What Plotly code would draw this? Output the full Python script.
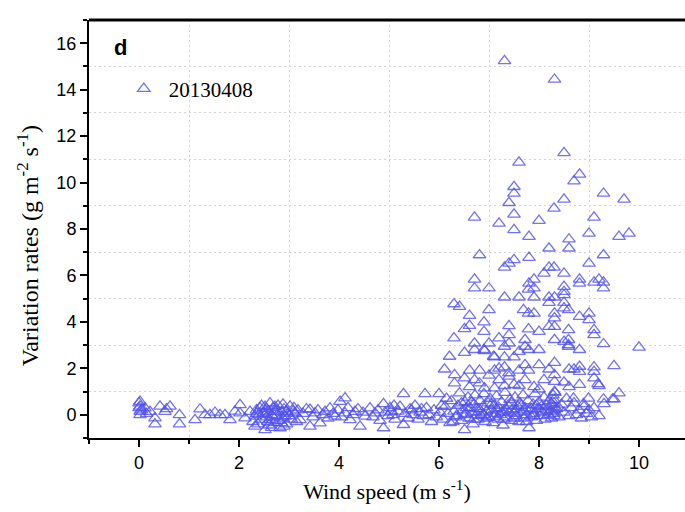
import plotly.graph_objects as go

# Low wind speeds (0-4.6 m/s)
wind_a = [0.00,0.00,0.02,0.02,0.02,0.02,0.05,0.12,0.15,0.22,
          0.32,0.32,0.42,0.52,0.62,0.55,0.81,0.81,1.12,1.22,
          1.32,1.42,1.52,1.62,1.72,1.82,1.92,2.02,2.02,2.12,
          2.22,2.28,2.32,2.32,2.35,2.38,2.42,2.45,2.48,2.52,
          2.52,2.55,2.58,2.60,2.62,2.62,2.65,2.68,2.70,2.72,
          2.75,2.78,2.80,2.82,2.85,2.88,2.90,2.92,2.95,2.98,
          3.02,3.05,3.08,3.12,3.15,3.18,3.22,3.28,3.35,3.42,
          3.42,3.48,3.52,3.58,3.62,3.68,3.72,3.78,3.82,3.88,
          3.92,3.98,4.02,4.05,4.12,4.12,4.18,4.22,4.28,4.32,
          4.38,4.42,4.48,4.52,2.40,2.50,2.58,2.68,2.72,2.85,
          2.95,3.00,2.45,2.55,2.75,2.88,3.10,2.65,2.35,2.90]
rate_a = [0.50,0.30,0.57,0.36,0.14,0.00,0.20,0.29,0.05,0.14,
          -0.14,-0.40,0.36,0.14,0.36,0.25,0.00,-0.40,-0.22,0.24,
          0.00,0.00,0.10,0.00,0.00,-0.22,0.15,0.43,0.07,-0.14,
          0.14,-0.30,-0.50,-0.07,0.20,-0.40,0.29,-0.20,0.05,-0.65,
          0.35,-0.10,0.15,-0.45,0.50,-0.22,0.00,0.30,-0.35,0.14,
          -0.05,0.40,-0.25,-0.57,0.10,-0.15,0.25,-0.07,-0.40,0.05,
          0.36,-0.20,0.15,0.07,-0.30,0.20,-0.22,0.05,0.25,-0.50,
          0.22,-0.10,0.07,0.20,-0.36,0.00,0.14,-0.15,0.29,0.05,
          -0.07,0.20,0.57,-0.10,0.72,0.07,0.30,-0.22,0.00,0.14,
          0.25,-0.50,0.10,-0.07,0.00,0.10,-0.30,-0.10,0.35,-0.35,
          0.15,-0.05,0.40,0.25,0.20,0.45,0.30,-0.55,0.05,-0.50]

# Moderate wind speeds (4.6-6 m/s)
wind_b = [4.62,4.68,4.72,4.78,4.82,4.89,4.89,4.92,4.98,5.02,
          5.08,5.12,5.18,5.22,5.29,5.29,5.32,5.38,5.42,5.48,
          5.52,5.58,5.62,5.68,5.72,5.75,5.80,5.85,5.90,5.95,
          6.00,5.05,5.45,5.65,5.10]
rate_b = [0.29,-0.10,0.07,0.20,-0.25,0.47,-0.57,0.10,-0.05,0.30,
          0.00,-0.20,0.15,0.35,0.90,-0.43,0.05,-0.15,0.25,0.00,
          0.40,-0.20,0.10,-0.05,0.90,0.30,0.00,-0.30,0.20,-0.10,
          0.90,0.15,0.20,0.25,0.40]

# High wind speeds, near-zero band
wind_c = [6.02,6.08,6.12,6.18,6.22,6.25,6.30,6.33,6.38,6.41,
          6.45,6.48,6.51,6.52,6.55,6.58,6.60,6.62,6.65,6.68,
          6.70,6.72,6.75,6.78,6.80,6.82,6.85,6.88,6.90,6.92,
          6.95,6.98,7.00,7.02,7.05,7.08,7.10,7.12,7.15,7.18,
          7.20,7.22,7.25,7.28,7.30,7.32,7.35,7.38,7.40,7.42,
          7.45,7.48,7.50,7.52,7.55,7.58,7.60,7.62,7.65,7.68,
          7.70,7.72,7.75,7.78,7.80,7.82,7.85,7.88,7.90,7.92,
          7.95,7.98,8.00,8.02,8.05,8.08,8.10,8.12,8.15,8.18,
          8.20,8.22,8.25,8.28,8.30,8.30,8.30,8.30,8.30,8.30,
          8.32,8.35,8.40,8.45,8.50,8.55,8.60,8.65,8.70,8.75,
          8.80,8.85,8.90,8.95,9.00,9.05,9.10,9.20,6.15,6.35,
          6.45,6.55,6.65,6.75,6.85,6.95,7.05,7.15,7.25,7.35,
          7.45,7.55,7.65,7.75,7.85,7.95,8.05,8.15,8.25,8.40,
          6.05,6.28,6.50,6.70,6.90,7.10,7.30,7.50,7.70,7.90]
rate_c = [0.10,-0.20,0.35,0.05,-0.35,0.60,0.15,-0.10,0.40,0.93,
          -0.25,0.20,-0.65,0.55,0.05,0.75,-0.15,0.30,0.10,-0.40,
          0.45,0.85,0.00,-0.20,0.25,0.60,-0.05,0.35,0.90,-0.30,
          0.15,0.50,-0.10,0.70,0.20,-0.35,0.40,0.05,0.80,-0.20,
          0.30,0.00,0.55,-0.45,0.15,0.95,-0.10,0.40,0.10,0.65,
          -0.25,0.25,0.05,0.75,-0.05,0.35,-0.30,0.50,0.10,0.85,
          -0.15,0.30,0.00,0.60,-0.57,0.20,-0.10,0.45,0.05,0.90,
          -0.25,0.25,0.55,-0.05,0.35,0.10,0.75,-0.20,0.40,0.00,
          0.60,0.15,-0.15,0.85,0.05,0.20,0.35,0.50,0.65,-0.05,
          0.95,0.25,-0.10,0.45,0.10,0.70,-0.05,0.30,0.50,0.00,
          0.20,-0.15,0.35,0.05,0.20,-0.10,0.30,-0.05,0.70,-0.05,
          0.50,0.30,0.55,0.25,0.10,-0.15,0.45,0.25,0.10,0.20,
          0.50,0.20,0.40,-0.30,0.25,0.40,0.15,0.20,0.45,0.30,
          0.40,-0.30,0.00,-0.20,0.00,-0.10,-0.20,-0.15,0.15,-0.05]

# High wind speeds, elevated rates
wind_d = [7.31,8.31,8.50,7.60,8.81,8.70,7.50,7.50,9.29,7.40,
          8.50,9.70,8.30,6.71,7.50,9.10,7.20,8.00,7.50,9.00,
          9.60,9.80,7.80,8.60,8.60,8.20,6.81,9.29,7.80,7.50,
          7.40,7.31,9.00,8.20,8.30,8.10,8.50,6.71,7.90,8.81,
          8.81,9.10,9.20,9.29,7.80,6.71,7.00,7.79,7.90,8.50,
          8.50,9.29,6.30,6.41,7.00,7.31,7.60,7.90,8.20,8.31,
          8.20,8.50,8.50,8.50,7.69,7.79,7.90,8.31,8.31,8.59,
          8.81,9.00,9.00,6.61,6.61,6.51,6.90,6.90,7.40,7.40,
          7.79,8.00,8.20,8.31,8.59,8.59,8.59,9.10,9.10,6.30,
          6.71,7.00,7.20,7.40,7.72,7.72,7.79,8.00,8.31,8.50,
          8.59,8.81,9.29,10.00,6.90,6.21,6.51,6.71,6.91,7.11,
          7.31,7.31,7.50,7.60,7.09,6.11,6.31,6.61,6.81,7.11,
          7.31,7.40,7.60,7.72,7.79,8.00,8.20,8.31,8.31,8.60,
          8.70,8.81,8.81,9.10,9.10,9.50,9.10,9.20,6.31,6.51,
          6.71,6.81,6.91,7.11,7.20,7.31,7.40,7.50,7.60,7.72,
          8.10,8.31,8.31,9.60,9.50,9.29,9.18,8.99,8.69,8.89,
          9.30,9.47,7.90,8.00,8.50,8.60,8.81,7.00,6.61,7.20]
rate_d = [15.24,14.44,11.28,10.87,10.35,10.06,9.82,9.53,9.53,9.13,
          9.28,9.28,8.89,8.50,8.63,8.50,8.24,8.36,7.96,7.81,
          7.67,7.81,7.67,7.56,7.17,7.17,6.88,6.88,6.77,6.67,
          6.52,6.35,6.52,6.35,6.35,6.09,6.09,5.83,5.83,5.83,
          5.66,5.70,5.83,5.70,5.66,5.45,5.45,5.40,5.45,5.52,
          5.30,5.45,4.77,4.66,4.52,5.06,5.06,5.06,5.06,5.06,
          4.83,5.16,4.83,4.59,4.52,4.37,4.37,4.37,4.16,4.52,
          4.23,4.37,4.09,4.27,3.84,3.70,3.99,3.58,3.83,3.44,
          3.69,3.58,3.80,3.80,3.66,3.23,3.01,3.66,3.44,3.30,
          3.08,3.08,3.30,3.08,3.23,2.94,2.80,2.80,3.23,3.15,
          2.94,2.80,3.05,2.90,2.80,2.51,2.68,2.80,2.75,2.48,
          2.94,2.48,2.48,2.72,2.51,1.96,1.72,1.91,1.91,1.91,
          2.05,1.65,1.91,2.15,1.91,2.15,1.96,2.25,1.72,1.96,
          1.96,2.08,1.86,2.05,1.86,2.11,1.58,1.25,1.36,1.58,
          1.50,1.36,1.15,1.15,1.50,1.25,1.80,1.30,1.25,1.50,
          1.50,1.43,1.00,0.93,0.67,0.67,1.33,0.71,0.71,0.47,
          0.47,0.67,1.20,1.10,1.40,1.20,1.30,1.70,1.20,2.00]

wind_speed = wind_a + wind_b + wind_c + wind_d
variation_rate = rate_a + rate_b + rate_c + rate_d

x_ticks = [0, 2, 4, 6, 8, 10]
y_ticks = [0, 2, 4, 6, 8, 10, 12, 14, 16]

marker_color = "rgba(80,80,232,0.8)"

fig = go.Figure()
fig.add_trace(go.Scatter(
    x=wind_speed, y=variation_rate, mode="markers", name="20130408",
    marker=dict(symbol="triangle-up-open", size=11, color=marker_color,
                line=dict(width=1.3, color=marker_color)),
))

tick_font = dict(family="Liberation Sans, Arial", size=18, color="black")
serif = "Liberation Serif, Times New Roman"

fig.update_layout(
    width=685, height=512,
    margin=dict(l=89, r=0, t=20, b=74),
    paper_bgcolor="white", plot_bgcolor="white",
    showlegend=True,
    legend=dict(x=0.05, y=0.835, xanchor="left", yanchor="middle", itemwidth=40,
                font=dict(family=serif, size=21, color="black"),
                bgcolor="rgba(0,0,0,0)"),
    xaxis=dict(range=[-1, 10.92], tickvals=x_ticks, ticks="outside", ticklen=7, tickwidth=2,
               tickcolor="black", showline=True, linewidth=2, linecolor="black",
               showgrid=False, zeroline=False, tickfont=tick_font,
               title=dict(text="Wind speed (m s<sup>-1</sup>)",
                          font=dict(family=serif, size=22, color="black"),
                          standoff=12),
               minor=dict(dtick=2, tick0=1, ticks="outside", ticklen=4, tickwidth=2, tickcolor="black",
                          showgrid=True, gridcolor="#d4d4d4", griddash="2px,3px", gridwidth=1)),
    yaxis=dict(range=[-1, 17], tickvals=y_ticks, ticks="outside", ticklen=7, tickwidth=2,
               tickcolor="black", showline=True, linewidth=2, linecolor="black",
               showgrid=False, zeroline=False, tickfont=tick_font,
               minor=dict(dtick=2, tick0=1, ticks="outside", ticklen=4, tickwidth=2, tickcolor="black",
                          showgrid=True, gridcolor="#d4d4d4", griddash="2px,3px", gridwidth=1)),
    shapes=[dict(type="line", xref="paper", yref="paper", x0=0, x1=1, y0=1, y1=1,
                 line=dict(color="black", width=3))],
    annotations=[
        dict(text="<b>d</b>", xref="paper", yref="paper", x=0.038, y=0.935,
             xanchor="left", yanchor="middle", showarrow=False,
             font=dict(family="Liberation Sans, Arial", size=22, color="black")),
        dict(text="Variation rates (g m<sup>-2</sup> s<sup>-1</sup>)", xref="paper", yref="paper",
             x=-0.103, y=0.46, xanchor="center", yanchor="middle", textangle=-90, showarrow=False,
             font=dict(family=serif, size=24, color="black")),
    ],
)

fig.write_html("out.html")
